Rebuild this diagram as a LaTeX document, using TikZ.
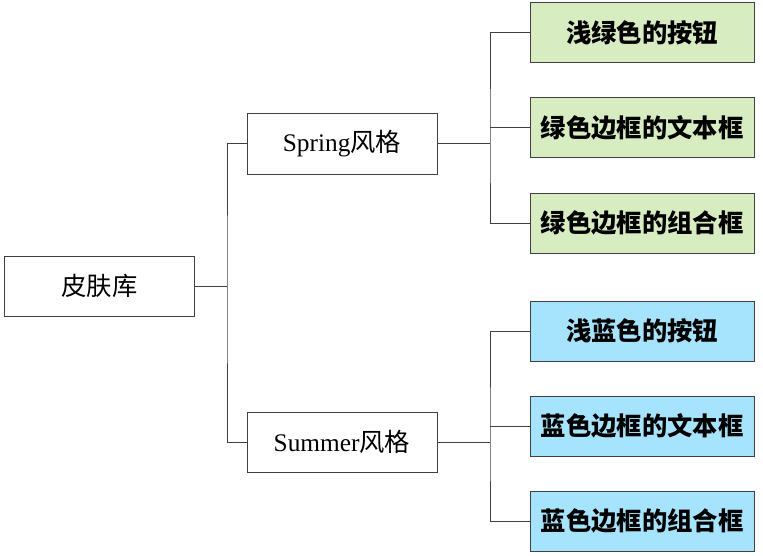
\documentclass[tikz,border=0pt]{standalone}
\usepackage{fontspec}
\usepackage{xcolor}
\setmainfont{Liberation Serif}
\newfontfamily\cjk{Noto Sans CJK SC}
\definecolor{springgreen}{RGB}{215,236,193}
\definecolor{summerblue}{RGB}{166,228,253}

\begin{document}
\begin{tikzpicture}[x=0.75pt,y=-0.75pt]
\tikzset{
  skinbox/.style={draw=black!75, line width=0.75pt, minimum width=142.5pt, minimum height=45pt, inner sep=0pt, font=\fontsize{19}{22}\selectfont},
  leafbox/.style={skinbox, minimum width=168pt, font=\fontsize{19}{22}\selectfont\bfseries},
  link/.style={draw=black!75, line width=0.75pt}
}
\useasboundingbox (0,0) rectangle (763,556);
\node[skinbox] (skin) at (99.5,286) {\cjk 皮肤库};
\node[skinbox] (spring) at (342,144) {Spring\cjk 风格};
\node[skinbox] (summer) at (342,442) {Summer\cjk 风格};
\node[leafbox,fill=springgreen] (g1) at (642,33) {\cjk 浅绿色的按钮};
\node[leafbox,fill=springgreen] (g2) at (642,128) {\cjk 绿色边框的文本框};
\node[leafbox,fill=springgreen] (g3) at (642,223) {\cjk 绿色边框的组合框};
\node[leafbox,fill=summerblue] (b1) at (642,331) {\cjk 浅蓝色的按钮};
\node[leafbox,fill=summerblue] (b2) at (642,426) {\cjk 蓝色边框的文本框};
\node[leafbox,fill=summerblue] (b3) at (642,521) {\cjk 蓝色边框的组合框};
% tree lines
\coordinate (skinfork) at (227,286);
\coordinate (springfork) at (490,144);
\coordinate (summerfork) at (490,442);
\draw[link] (skin.east) -- (skinfork);
\draw[link] (spring.west) -| (skinfork) |- (summer.west);
\draw[link] (spring.east) -- (springfork);
\draw[link] (g1.west) -| (springfork) |- (g3.west);
\draw[link] (g2.west) -- (g2.west -| springfork);
\draw[link] (summer.east) -- (summerfork);
\draw[link] (b1.west) -| (summerfork) |- (b3.west);
\draw[link] (b2.west) -- (b2.west -| summerfork);
\end{tikzpicture}
\end{document}
